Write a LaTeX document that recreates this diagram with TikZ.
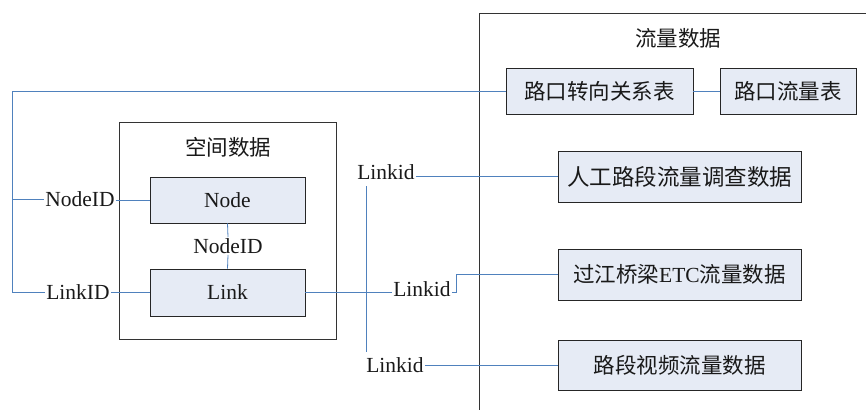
\documentclass[tikz,border=0pt]{standalone}
\usepackage{fontspec}
\setmainfont{Liberation Serif}
\newfontfamily\cjk{Noto Sans CJK SC}
\definecolor{lnblue}{HTML}{4F81BD}
\definecolor{boxfill}{HTML}{E6EBF5}
\begin{document}
\begin{tikzpicture}[x=1pt,y=-1pt,
  every node/.style={font=\fontsize{21.5}{24}\selectfont,text=black!90},
  box/.style={draw=black!85,fill=boxfill,line width=0.9pt,inner sep=0pt},
  frame/.style={draw=black!80,line width=0.9pt},
  wire/.style={draw=lnblue,line width=0.8pt},
  lbl/.style={inner sep=1pt}]
\useasboundingbox (0,0) rectangle (866,410);
% frames
\draw[frame] (866,13) -- (479,13) -- (479,410);
\draw[frame] (119,122) rectangle (336,339);
\node (ttlflow) at (678,38) {\cjk 流量数据};
\node (ttlspace) at (228,147) {\cjk 空间数据};
% boxes
\node[box,minimum width=187pt,minimum height=46pt] (turn) at (599.5,91) {\cjk 路口转向关系表};
\node[box,minimum width=136pt,minimum height=46pt] (flowtab) at (788,91) {\cjk 路口流量表};
\node[box,minimum width=243pt,minimum height=51pt] (manual) at (679.5,176.5) {\fontsize{22.5}{25}\selectfont\cjk 人工路段流量调查数据};
\node[box,minimum width=243pt,minimum height=51pt] (etc) at (679.5,274.5) {{\cjk 过江桥梁}ETC{\cjk 流量数据}};
\node[box,minimum width=243pt,minimum height=50pt] (video) at (679.5,365) {\cjk 路段视频流量数据};
\node[box,minimum width=155pt,minimum height=46pt] (node) at (227.5,200) {Node};
\node[box,minimum width=155pt,minimum height=47pt] (link) at (227.5,292.5) {Link};
% labels
\node[lbl] (nodeidL) at (80,199) {NodeID};
\node[lbl] (linkidL) at (78,292) {LinkID};
\node[lbl] (nodeidM) at (228,246) {NodeID};
\node[lbl] (lk1) at (386,172) {Linkid};
\node[lbl] (lk2) at (422,289) {Linkid};
\node[lbl] (lk3) at (395,365) {Linkid};
% coordinates
\coordinate (lt) at (12,91);
\coordinate (lm) at (12,199);
\coordinate (lb) at (12,292);
\coordinate (vt) at (366,186);
\coordinate (vb) at (366,352);
% wires
\draw[wire] (turn.west) -- (lt) -- (lb) -- (linkidL.west |- lb);
\draw[wire] (lm) -- (nodeidL.west |- lm);
\draw[wire] (nodeidL.east |- node.west) -- (node.west);
\draw[wire] (linkidL.east |- link.west) -- (link.west);
\draw[wire] (node.south) -- (nodeidM.north);
\draw[wire] (nodeidM.south) -- (link.north);
\draw[wire] (turn.east) -- (flowtab.west);
\draw[wire] (lk1.east |- manual.west) -- (manual.west);
\draw[wire] (vt) -- (vb);
\draw[wire] (link.east) -- (lk2.west |- link.east);
\draw[wire] (lk2.east |- link.east) -- ++(5,0) |- (etc.west);
\draw[wire] (lk3.east |- video.west) -- (video.west);
\end{tikzpicture}
\end{document}
